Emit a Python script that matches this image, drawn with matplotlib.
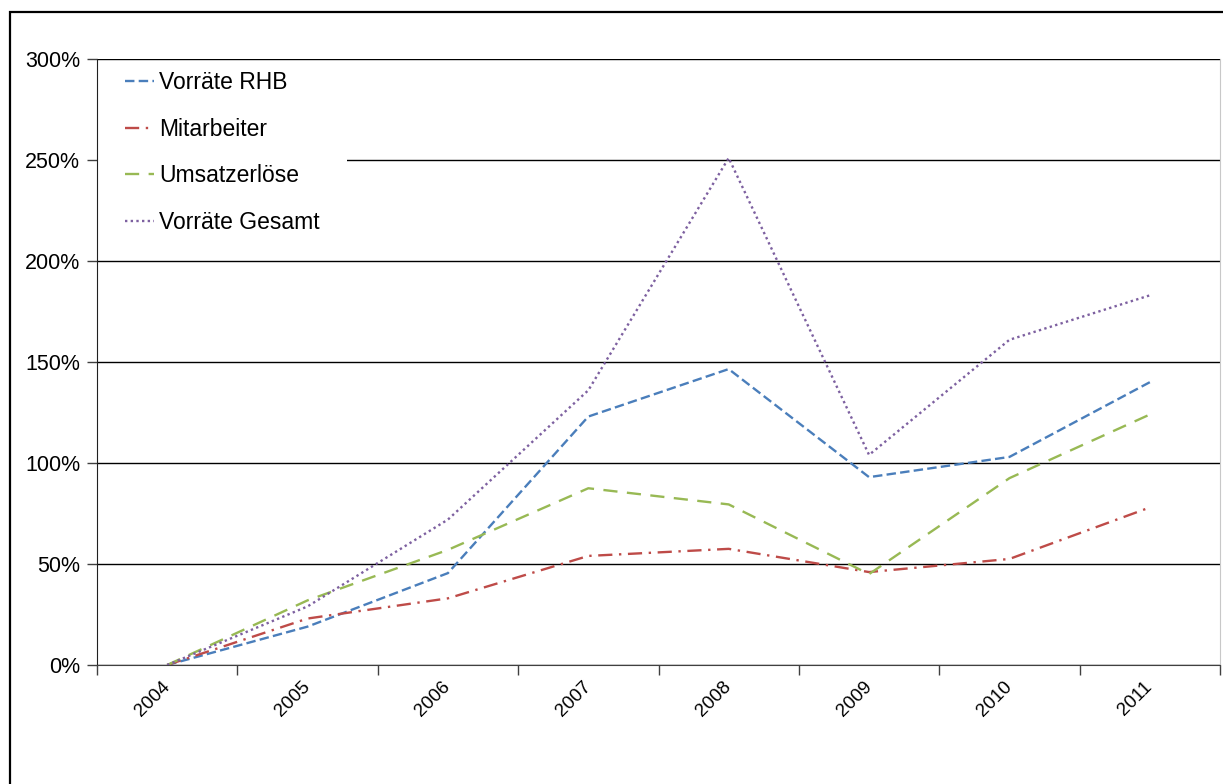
import matplotlib
matplotlib.use("Agg")
import matplotlib.pyplot as plt
from matplotlib.patches import Rectangle
from matplotlib.ticker import FixedLocator, PercentFormatter

plt.rcParams['font.family'] = ['Liberation Sans', 'DejaVu Sans']

years = ['2004', '2005', '2006', '2007', '2008', '2009', '2010', '2011']
vorraete_rhb = [0, 19, 45.5, 123, 146.5, 93, 103, 140]
mitarbeiter = [0, 23, 33, 54, 57.5, 46, 52.5, 78]
umsatzerloese = [0, 32, 57, 87.5, 79.5, 45, 92.5, 124]
vorraete_gesamt = [0, 29, 72, 136, 251, 104, 161, 183]

W, H = 1223, 784
fig = plt.figure(figsize=(W / 100, H / 100), dpi=100)
ax = fig.add_axes([97 / W, 1 - 665 / H, (1220 - 97) / W, (665 - 59) / H])

x = list(range(len(years)))
lw = 1.7
ax.plot(x, vorraete_rhb, color='#4A7EBB', lw=lw, dashes=(4, 1.8), label='Vorräte RHB', zorder=3)
ax.plot(x, mitarbeiter, color='#BE4B48', lw=lw, dashes=(6, 2.8, 1, 2.8), label='Mitarbeiter', zorder=3)
ax.plot(x, umsatzerloese, color='#98B954', lw=lw, dashes=(6, 4), label='Umsatzerlöse', zorder=3)
ax.plot(x, vorraete_gesamt, color='#7D60A0', lw=lw, dashes=(1, 1.4), label='Vorräte Gesamt', zorder=3)

ax.set_xlim(-0.5, len(years) - 0.5)
ax.set_ylim(0, 300)
ax.set_yticks(range(0, 301, 50))
ax.yaxis.set_major_formatter(PercentFormatter(decimals=0))
ax.set_axisbelow(True)
ax.grid(axis='y', color='black', lw=1.0)

# category axis: ticks between categories, labels at the centres
ax.xaxis.set_major_locator(FixedLocator([i - 0.5 for i in range(len(years) + 1)]))
ax.xaxis.set_minor_locator(FixedLocator(x))
ax.set_xticklabels([], minor=False)
ax.set_xticklabels(years, minor=True, rotation=45, ha='right', va='center',
                   rotation_mode='anchor', fontsize=13.5)
ax.tick_params(axis='x', which='major', length=7, width=1, color='#404040')
ax.tick_params(axis='x', which='minor', length=0, pad=14)
ax.tick_params(axis='y', length=7, width=1, labelsize=15.5, pad=5, color='#404040')

ax.spines['top'].set_visible(False)
ax.spines['right'].set_color('#c8c8c8')
ax.spines['left'].set_color('#202020')
ax.spines['bottom'].set_color('#404040')

# white area behind the legend, hides the gridline there
ax.add_patch(Rectangle((0, 0.70), 0.2226, 0.28, transform=ax.transAxes,
                       facecolor='white', edgecolor='none', zorder=1))
ax.legend(loc='upper left', bbox_to_anchor=(0.025, 0.98), fontsize=16.5, frameon=False,
          handlelength=1.25, handletextpad=0.25, labelspacing=1.03,
          borderpad=0.0, borderaxespad=0.0)

# outer frame round the whole chart
fig.patches.append(Rectangle((10 / W, -0.1), 1.2, 1.1 - 12 / H, transform=fig.transFigure,
                             fill=False, edgecolor='black', lw=1.6))

fig.savefig('out.png', dpi=100)
